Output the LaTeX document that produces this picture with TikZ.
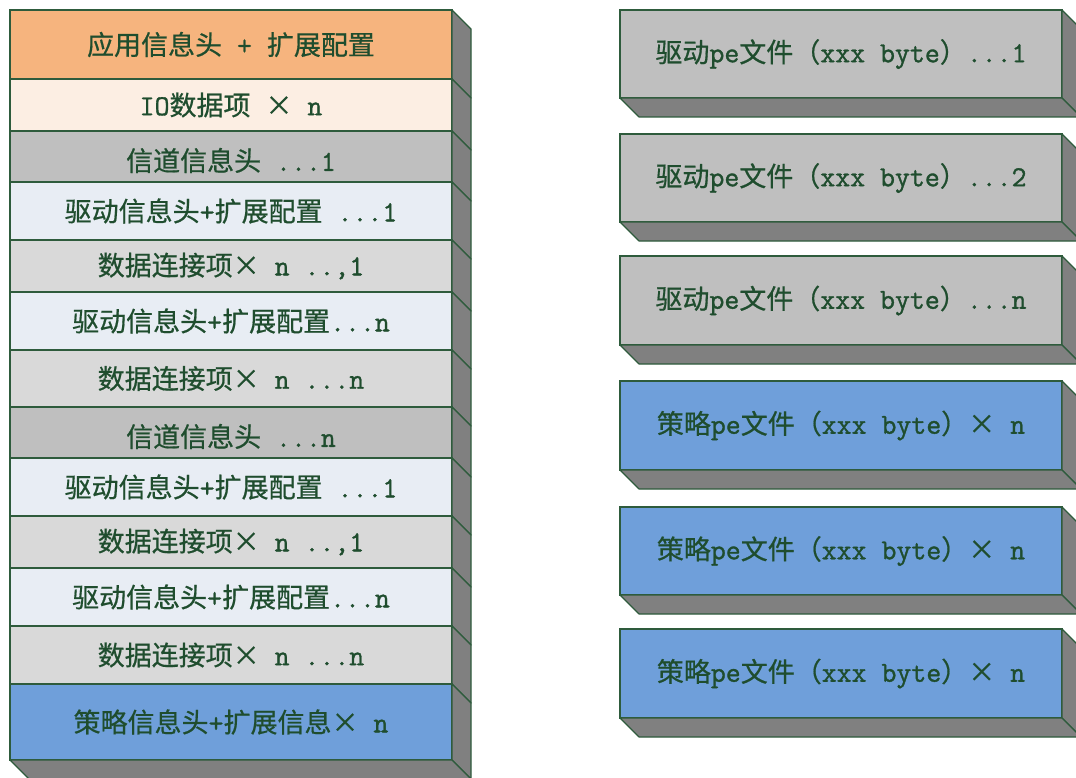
\documentclass[tikz,border=0pt]{standalone}
\usepackage{fontspec}
\newfontfamily\cjk{Noto Sans CJK SC}[FakeBold=0.6]
\setmonofont{Latin Modern Mono}[FakeBold=1.2]
\newcommand\lat[1]{{\ttfamily\fontsize{29}{32}\selectfont #1}}
\newcommand\lowered[1]{\raisebox{-4pt}[\height][\depth]{#1}}
\usetikzlibrary{calc}
\definecolor{edge}{HTML}{2E5B3C}
\definecolor{txt}{HTML}{1F4D2E}
\definecolor{sidegray}{HTML}{808080}
\definecolor{corange}{HTML}{F6B47E}
\definecolor{cpeach}{HTML}{FCEEE3}
\definecolor{cgray}{HTML}{BFBFBF}
\definecolor{cpale}{HTML}{E8EDF4}
\definecolor{clight}{HTML}{D9D9D9}
\definecolor{cblue}{HTML}{6F9FDA}
\newcommand\sideface[1]{\filldraw[sideface] (#1.north east) -- ++(19,19) -- ($(#1.south east)+(19,19)$) -- (#1.south east) -- cycle;}
\newcommand\bottomface[1]{\filldraw[sideface] (#1.south west) -- ++(19,19) -- ($(#1.south east)+(19,19)$) -- (#1.south east) -- cycle;}
\begin{document}
\begin{tikzpicture}[x=1pt,y=-1pt,
  face/.style={draw=edge, line width=1.3pt, inner sep=0pt, outer sep=0pt, text=txt,
    font=\cjk\fontsize{27}{32}\selectfont, minimum width=442pt, anchor=north west},
  sideface/.style={fill=sidegray, draw=edge, line width=1.2pt, line join=round}]
\useasboundingbox (0,0) rectangle (1076,778);
\clip (0,0) rectangle (1076,778);
\fill[white] (0,0) rectangle (1076,778);
% left stack
\node[face, fill=corange, minimum height=69pt] (r1) at (10,10) {应用信息头\lat{ + }扩展配置};
\sideface{r1}
\node[face, fill=cpeach, minimum height=52pt] (r2) at (r1.south west) {\lat{IO}数据项\lat{ }×\lat{ n}};
\sideface{r2}
\node[face, fill=cgray, minimum height=51pt] (r3) at (r2.south west) {\lowered{信道信息头\lat{ ...1}}};
\sideface{r3}
\node[face, fill=cpale, minimum height=58pt] (r4) at (r3.south west) {驱动信息头\lat{+}扩展配置\lat{ ...1}};
\sideface{r4}
\node[face, fill=clight, minimum height=52pt] (r5) at (r4.south west) {数据连接项×\lat{ n ..,1}};
\sideface{r5}
\node[face, fill=cpale, minimum height=58pt] (r6) at (r5.south west) {驱动信息头\lat{+}扩展配置\lat{...n}};
\sideface{r6}
\node[face, fill=clight, minimum height=57pt] (r7) at (r6.south west) {数据连接项×\lat{ n ...n}};
\sideface{r7}
\node[face, fill=cgray, minimum height=51pt] (r8) at (r7.south west) {\lowered{信道信息头\lat{ ...n}}};
\sideface{r8}
\node[face, fill=cpale, minimum height=58pt] (r9) at (r8.south west) {驱动信息头\lat{+}扩展配置\lat{ ...1}};
\sideface{r9}
\node[face, fill=clight, minimum height=52pt] (r10) at (r9.south west) {数据连接项×\lat{ n ..,1}};
\sideface{r10}
\node[face, fill=cpale, minimum height=58pt] (r11) at (r10.south west) {驱动信息头\lat{+}扩展配置\lat{...n}};
\sideface{r11}
\node[face, fill=clight, minimum height=58pt] (r12) at (r11.south west) {数据连接项×\lat{ n ...n}};
\sideface{r12}
\node[face, fill=cblue, minimum height=76pt] (r13) at (r12.south west) {策略信息头\lat{+}扩展信息×\lat{ n}};
\sideface{r13}
\bottomface{r13}
% right boxes
\node[face, fill=cgray, minimum height=88pt] (p1) at (620,10) {驱动\lat{pe}文件（\lat{xxx byte}）\lat{...1}};
\sideface{p1}\bottomface{p1}
\node[face, fill=cgray, minimum height=88pt] (p2) at (620,134) {驱动\lat{pe}文件（\lat{xxx byte}）\lat{...2}};
\sideface{p2}\bottomface{p2}
\node[face, fill=cgray, minimum height=89pt] (p3) at (620,256) {驱动\lat{pe}文件（\lat{xxx byte}）\lat{...n}};
\sideface{p3}\bottomface{p3}
\node[face, fill=cblue, minimum height=89pt] (p4) at (620,381) {策略\lat{pe}文件（\lat{xxx byte}）×\lat{ n}};
\sideface{p4}\bottomface{p4}
\node[face, fill=cblue, minimum height=88pt] (p5) at (620,507) {策略\lat{pe}文件（\lat{xxx byte}）×\lat{ n}};
\sideface{p5}\bottomface{p5}
\node[face, fill=cblue, minimum height=89pt] (p6) at (620,629) {策略\lat{pe}文件（\lat{xxx byte}）×\lat{ n}};
\sideface{p6}\bottomface{p6}
\end{tikzpicture}
\end{document}
